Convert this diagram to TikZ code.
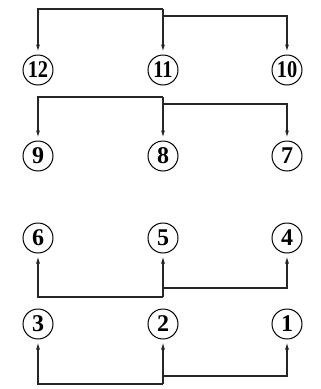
\documentclass[tikz,border=0pt]{standalone}
\usepackage{fontspec}
\setmainfont{Liberation Serif}
\usetikzlibrary{arrows.meta}
\begin{document}
\begin{tikzpicture}[x=1pt,y=-1pt,
  num/.style={circle,draw,line width=1pt,minimum size=30pt,inner sep=0pt,font=\fontsize{24}{24}\selectfont\bfseries},
  wire/.style={line width=1.1pt,draw=black!85},
  arr/.style={wire,-{Latex[length=7pt,width=4pt]},shorten >=3pt}]
\useasboundingbox (0,0) rectangle (321,389);
\node[num] (n12) at (38,70) {\scalebox{0.85}[1]{12}};
\node[num] (n11) at (163,70) {\scalebox{0.85}[1]{11}};
\node[num] (n10) at (287,70) {\scalebox{0.85}[1]{10}};
\node[num] (n9) at (38,156) {9};
\node[num] (n8) at (163,156) {8};
\node[num] (n7) at (287,156) {7};
\node[num] (n6) at (38,238) {6};
\node[num] (n5) at (163,238) {5};
\node[num] (n4) at (287,238) {4};
\node[num] (n3) at (38,324) {3};
\node[num] (n2) at (163,324) {2};
\node[num] (n1) at (287,324) {1};
% top group
\coordinate (a1) at (38,9);
\coordinate (a2) at (163,9);
\coordinate (a3) at (163,16);
\coordinate (a4) at (287,16);
\draw[arr] (a2) -- (a1) -- (n12);
\draw[arr] (a2) -- (n11);
\draw[arr] (a3) -- (a4) -- (n10);
% second group
\coordinate (b1) at (38,97);
\coordinate (b2) at (163,97);
\coordinate (b3) at (163,104);
\coordinate (b4) at (287,104);
\draw[arr] (b2) -- (b1) -- (n9);
\draw[arr] (b2) -- (n8);
\draw[arr] (b3) -- (b4) -- (n7);
% third group
\coordinate (c1) at (38,297);
\coordinate (c2) at (163,297);
\coordinate (c3) at (163,288);
\coordinate (c4) at (287,288);
\draw[arr] (c2) -- (c1) -- (n6);
\draw[arr] (c2) -- (n5);
\draw[arr] (c3) -- (c4) -- (n4);
% bottom group
\coordinate (d1) at (38,384);
\coordinate (d2) at (163,384);
\coordinate (d3) at (163,376);
\coordinate (d4) at (287,376);
\draw[arr] (d2) -- (d1) -- (n3);
\draw[arr] (d2) -- (n2);
\draw[arr] (d3) -- (d4) -- (n1);
\end{tikzpicture}
\end{document}
